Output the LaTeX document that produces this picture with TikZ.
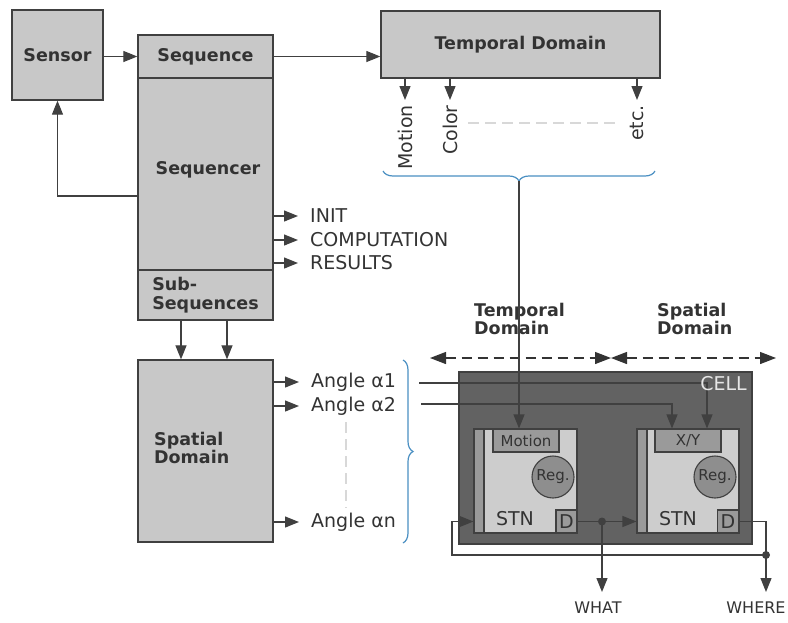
\documentclass[tikz,border=0pt]{standalone}
\usepackage{fontspec}
\setmainfont{DejaVu Sans}
\usetikzlibrary{arrows.meta,decorations.pathreplacing}

\definecolor{boxgray}{HTML}{C8C8C8}
\definecolor{edge}{HTML}{404040}
\definecolor{ink}{HTML}{333333}
\definecolor{cellgray}{HTML}{626262}
\definecolor{stngray}{HTML}{CDCDCD}
\definecolor{midgray}{HTML}{9A9A9A}
\definecolor{reggray}{HTML}{8E8E8E}
\definecolor{bracebl}{HTML}{4A8FC2}
\definecolor{hint}{HTML}{D8D8D8}
\definecolor{celltext}{HTML}{E6E6E6}

\newcommand{\bigbold}{\fontsize{17.5}{18.5}\selectfont\bfseries}
\newcommand{\plaintxt}{\fontsize{19}{21}\selectfont}
\newcommand{\smalltxt}{\fontsize{15}{17}\selectfont}
\newcommand{\outtxt}{\fontsize{16}{18}\selectfont}

\begin{document}
\begin{tikzpicture}[x=1pt,y=-1pt,
  box/.style={draw=edge, fill=boxgray, line width=1.3pt, inner sep=0pt, text=ink, font=\bigbold},
  inner/.style={draw=edge, line width=1.1pt, inner sep=0pt},
  arr/.style={draw=edge, line width=1.2pt, -{Triangle[length=14pt,width=11pt]}},
  dasharr/.style={draw=ink, line width=1.3pt, dash pattern=on 10pt off 6pt,
    {Triangle[length=16pt,width=12pt]}-{Triangle[length=16pt,width=12pt]}},
  lbl/.style={text=ink, font=\plaintxt, inner xsep=12pt, inner ysep=1pt},
  vlbl/.style={text=ink, font=\plaintxt, rotate=90, anchor=east, inner xsep=5pt, inner ysep=0pt},
  bracepath/.style={draw=bracebl, line width=1.2pt, decorate, decoration={brace, amplitude=10pt}},
  hintline/.style={draw=hint, line width=1.5pt, dash pattern=on 11pt off 6pt},
  dot/.style={circle, fill=edge, inner sep=0pt, minimum size=8pt},
]
\useasboundingbox (0,0) rectangle (788,622);

% ---------- left column ----------
\node[box, minimum width=91pt, minimum height=90pt] (sensor) at (57.5,55) {Sensor};
\node[box, minimum width=135pt, minimum height=43pt] (sequence) at (205.5,56.5) {Sequence};
\node[box, minimum width=135pt, minimum height=192pt] (sequencer) at (205.5,174) {};
\node[text=ink, font=\bigbold] at (208,170) {Sequencer};
\node[box, minimum width=135pt, minimum height=50pt, align=left] (subseq) at (205.5,295) {Sub-\\Sequences};
\node[box, minimum width=135pt, minimum height=182pt] (spatial) at (205.5,451) {};
\node[text=ink, font=\bigbold, align=left, anchor=west, inner sep=0pt] at (154,448) {Spatial\\Domain};

\draw[arr] (sensor.east |- sequence.west) -- (sequence.west);
\draw[arr] ([yshift=-22pt]sequencer.west) -| (sensor.south);

% sequencer outputs
\node[lbl, anchor=west] (init) at (298,216) {INIT};
\node[lbl, anchor=west] (comp) at (298,240) {COMPUTATION};
\node[lbl, anchor=west] (res) at (298,263) {RESULTS};
\draw[arr] (sequencer.east |- init) -- (init.west);
\draw[arr] (sequencer.east |- comp) -- (comp.west);
\draw[arr] (sequencer.east |- res) -- (res.west);

% sub-sequences into the spatial domain
\draw[arr] ([xshift=-24.5pt]subseq.south) -- ([xshift=-24.5pt]spatial.north);
\draw[arr] ([xshift=21.5pt]subseq.south) -- ([xshift=21.5pt]spatial.north);

% angle outputs
\node[lbl, anchor=west] (a1) at (299,382) {Angle α1};
\node[lbl, anchor=west] (a2) at (299,406) {Angle α2};
\node[lbl, anchor=west] (an) at (299,522) {Angle αn};
\draw[arr] (spatial.east |- a1) -- (a1.west);
\draw[arr] (spatial.east |- a2) -- (a2.west);
\draw[arr] (spatial.east |- an) -- (an.west);
\coordinate (hv1) at (346,422);
\coordinate (hv2) at (346,508);
\draw[hintline] (hv1) -- (hv2);

\coordinate (rb1) at (403,360);
\coordinate (rb2) at (403,543);
\draw[bracepath] (rb1) -- (rb2);

% ---------- temporal domain ----------
\node[box, minimum width=279pt, minimum height=67pt] (td) at (520.5,44.5) {Temporal Domain};
\draw[arr] (sequence.east) -- (sequence.east -| td.west);

\node[vlbl] (lmotion) at (405,100) {Motion};
\node[vlbl] (lcolor) at (450,100) {Color};
\node[vlbl] (letc) at (637,100) {etc.};
\draw[arr] (td.south -| lmotion.east) -- (lmotion.east);
\draw[arr] (td.south -| lcolor.east) -- (lcolor.east);
\draw[arr] (td.south -| letc.east) -- (letc.east);
\coordinate (hh1) at (468,123);
\coordinate (hh2) at (620,123);
\draw[hintline] (hh1) -- (hh2);

\coordinate (tb1) at (655,171);
\coordinate (tb2) at (383,171);
\coordinate (tbtip) at (519,181);
\draw[bracepath] (tb1) -- (tb2);

% ---------- domain spans ----------
\node[text=ink, font=\bigbold, align=left, anchor=west, inner sep=0pt] at (474,319) {Temporal\\Domain};
\node[text=ink, font=\bigbold, align=left, anchor=west, inner sep=0pt] at (657,319) {Spatial\\Domain};
\coordinate (spanL) at (430,358);
\coordinate (spanM) at (611,358);
\coordinate (spanR) at (776,358);
\draw[dasharr] (spanL) -- (spanM);
\draw[dasharr] (spanM) -- (spanR);

% ---------- cell ----------
\node[draw=edge, fill=cellgray, line width=1.3pt, minimum width=293pt, minimum height=172pt, inner sep=0pt] (cell) at (605.5,458) {};

% left STN (temporal)
\node[inner, fill=stngray, minimum width=103pt, minimum height=104pt] (stnL) at (525.5,481) {};
\node[inner, fill=midgray, minimum width=10pt, minimum height=104pt] (stripL) at (479,481) {};
\node[inner, fill=midgray, minimum width=66pt, minimum height=23pt, text=ink, font=\smalltxt] (motion) at (526,440.5) {Motion};
\node[inner, circle, fill=reggray, minimum size=42pt, text=ink, font=\smalltxt] (regL) at (553,477) {Reg.};
\node[text=ink, font=\plaintxt] at (515,519) {STN};
\node[inner, fill=midgray, minimum width=21pt, minimum height=23pt, text=ink, font=\plaintxt] (dL) at (566.5,521.5) {D};

% right STN (spatial)
\node[inner, fill=stngray, minimum width=102pt, minimum height=104pt] (stnR) at (688,481) {};
\node[inner, fill=midgray, minimum width=10pt, minimum height=104pt] (stripR) at (642,481) {};
\node[inner, fill=midgray, minimum width=66pt, minimum height=23pt, text=ink, font=\smalltxt] (xy) at (688,440.5) {X/Y};
\node[inner, circle, fill=reggray, minimum size=42pt, text=ink, font=\smalltxt] (regR) at (715,477) {Reg.};
\node[text=ink, font=\plaintxt] at (678,519) {STN};
\node[inner, fill=midgray, minimum width=21pt, minimum height=23pt, text=ink, font=\plaintxt] (dR) at (728,521.5) {D};

% inputs into the cell
\draw[arr] (tbtip) -- (tbtip |- motion.north);
\coordinate (a1s) at (419,383);
\coordinate (a2s) at (421,404);
\coordinate (xyin1) at ([xshift=19pt]xy.north);
\coordinate (xyin2) at ([xshift=-16pt]xy.north);
\draw[arr] (a1s) -| (xyin1);
\draw[arr] (a2s) -| (xyin2);
\node[text=celltext, font=\plaintxt, anchor=east, inner sep=0pt] at (747,384) {CELL};

% outputs and feedback
\node[dot] (j1) at (602,521.5) {};
\node[dot] (j2) at (766,555) {};
\node[text=ink, font=\outtxt, anchor=north, inner sep=0pt] (what) at (598,602) {WHAT};
\node[text=ink, font=\outtxt, anchor=north, inner sep=0pt] (where) at (756,602) {WHERE};
\coordinate (whatend) at (602,592);
\coordinate (whereend) at (766,592);
\coordinate (fbcorner) at (452,555);

\draw[arr] (dL.east) -- (stripR.west |- dL.east);
\draw[arr] (j1.center) -- (whatend);
\draw[edge, line width=1.2pt] (dR.east) -| (j2.center);
\draw[arr] (j2.center) -- (whereend);
\draw[arr] (j2.center) -- (fbcorner) |- (stripL.west |- dL.east);
\end{tikzpicture}
\end{document}
